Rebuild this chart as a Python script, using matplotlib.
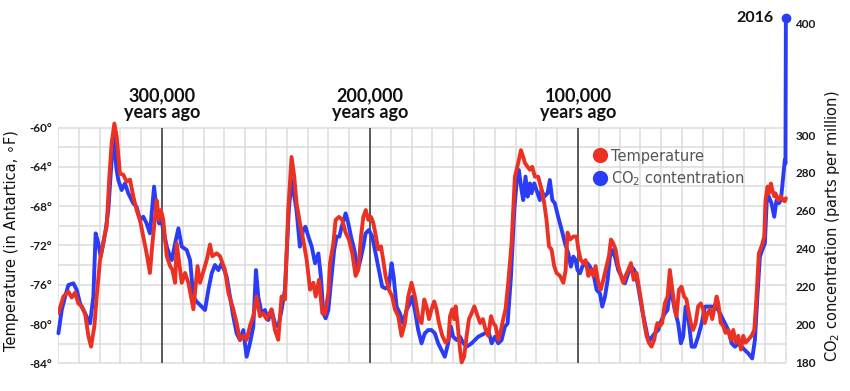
import numpy as np
import matplotlib
matplotlib.use("Agg")
import matplotlib.pyplot as plt
from matplotlib.lines import Line2D
from matplotlib.font_manager import FontProperties

# ---------------- data (thousands of years relative to 2016) ----------------
temp_ka = [
    -349.8, -347.4, -345.0, -343.4, -341.8, -340.2, -338.6, -337.0, -335.4, -334.1,
    -332.5, -331.4, -329.8, -327.7, -326.6, -325.3, -324.2, -322.9, -321.8, -320.2,
    -318.6, -317.0, -315.4, -313.8, -312.2, -310.6, -309.0, -307.4, -305.8, -304.6,
    -303.0, -302.6, -301.4, -300.5, -299.4, -297.7, -296.1, -295.0, -293.7,
    -292.9, -290.5, -288.9, -287.3, -284.9, -282.9, -281.7, -278.5, -276.9, -275.8,
    -273.7, -272.1, -269.7, -268.1, -265.7, -264.1, -262.5, -260.9, -259.3, -257.7,
    -256.1, -254.5, -252.9, -251.3, -249.7, -247.3, -245.7, -244.1, -242.5, -240.9,
    -239.3, -237.7, -236.4,
    -235.3, -233.7, -232.1, -230.4, -228.8, -227.2, -226.1, -224.5, -222.9, -221.6,
    -220.0, -219.2, -217.6, -216.5, -214.9, -213.3, -211.7, -210.1, -208.5, -206.9,
    -205.6, -204.3, -203.2, -202.0, -200.8, -199.5, -198.4, -197.1, -196.0, -194.7,
    -193.6, -192.5, -190.9, -189.3, -188.0, -186.4, -184.8, -183.2, -181.6, -180.0,
    -178.4, -176.8,
    -175.2, -173.9, -172.8, -171.6, -170.4, -169.1, -168.0, -166.8, -165.2, -163.6,
    -162.3, -161.5, -160.4, -159.5, -158.8, -157.9, -156.7, -155.9, -154.7, -153.5,
    -152.4, -151.1, -149.8, -148.2, -147.0, -145.7, -144.4, -143.1, -141.8, -140.7,
    -139.6, -138.3, -137.0, -135.9, -134.8, -133.5, -131.9, -130.3, -128.7, -127.4,
    -126.3, -125.5, -124.2, -123.1, -122.0, -120.7,
    -119.1, -117.5, -116.2, -115.1, -113.9, -112.7, -111.4, -110.3, -108.6, -107.0,
    -105.9, -105.0, -103.8, -102.2, -100.6, -99.8, -98.6, -97.4, -96.3, -95.0,
    -93.8, -92.6, -91.5, -90.2, -89.0, -87.8, -86.2, -85.1, -84.1, -83.0,
    -81.9, -80.6, -79.3, -78.2, -77.1, -75.8, -74.5, -73.2, -71.8, -70.7,
    -69.4, -68.1, -67.0, -65.9, -64.6, -63.3, -62.2,
    -61.7, -60.6, -59.5, -58.2, -56.9, -55.8, -54.6, -53.4, -52.6, -51.4,
    -50.2, -48.9, -47.8, -47.0, -45.7, -44.6, -43.4, -42.2, -40.9, -39.8,
    -39.0, -37.7, -36.5, -35.4, -34.5, -33.3, -32.5, -31.3, -30.1, -29.0,
    -27.7, -26.4, -25.3, -24.2, -22.9, -21.6, -20.5, -19.4, -18.1, -16.5,
    -15.2, -14.1, -13.0, -11.7, -10.4, -9.8, -8.8, -8.2, -7.2, -6.6,
    -5.6, -5.0, -3.7, -2.4, -1.3, -0.5, 0.0,
]
temp_f = [
    -78.9, -77.2, -76.7, -77.3, -76.8, -77.9, -78.2, -78.9, -81.2, -82.3,
    -80.2, -77.2, -73.5, -71.1, -70.1, -65.0, -61.6, -59.6, -60.9, -64.7,
    -64.8, -65.5, -65.3, -67.0, -68.4, -69.4, -71.1, -72.8, -74.8, -71.8,
    -68.4, -67.4, -69.4, -68.4, -69.4, -73.1, -74.1, -74.5, -75.8,
    -71.8, -75.8, -74.8, -75.8, -78.5, -74.1, -75.8, -73.5, -71.9, -73.1,
    -72.8, -73.1, -74.5, -76.8, -78.5, -79.9, -81.6, -81.2, -81.6, -80.2,
    -79.2, -77.2, -79.2, -78.9, -79.5, -78.5, -80.6, -81.6, -77.2, -77.5,
    -68.4, -63.0, -65.0,
    -67.7, -69.7, -71.4, -73.5, -76.5, -75.8, -77.2, -75.5, -78.9, -79.0,
    -76.8, -73.8, -71.8, -69.4, -69.1, -69.4, -70.7, -71.4, -72.8, -75.1,
    -74.5, -71.1, -69.1, -68.4, -69.4, -69.1, -69.7, -71.1, -72.4, -72.1,
    -73.5, -75.1, -76.5, -77.2, -78.5, -79.2, -81.2, -79.9, -77.2, -75.8,
    -77.2, -79.2,
    -79.9, -77.5, -78.2, -79.5, -78.5, -77.7, -78.5, -79.9, -81.2, -81.9,
    -81.6, -79.2, -78.5, -79.5, -78.2, -79.9, -82.6, -83.9, -83.3, -81.2,
    -79.5, -78.9, -78.2, -79.2, -79.9, -79.5, -80.6, -81.2, -79.2, -79.9,
    -80.2, -81.6, -80.6, -79.5, -78.5, -75.8, -71.8, -65.0, -63.6, -62.3,
    -63.0, -63.6, -64.0, -64.3, -64.0, -65.0,
    -65.0, -66.3, -67.7, -69.4, -72.1, -72.4, -74.1, -74.8, -75.1, -75.8,
    -74.5, -70.7, -71.4, -71.1, -71.1, -72.4, -73.5, -73.8, -73.5, -75.1,
    -74.5, -75.1, -74.1, -75.8, -76.5, -75.5, -74.1, -73.1, -71.4, -71.8,
    -72.4, -74.1, -75.1, -75.8, -75.1, -74.5, -73.8, -75.5, -74.8, -76.2,
    -77.9, -79.9, -81.2, -81.9, -82.3, -81.6, -80.2,
    -79.9, -80.2, -79.9, -77.9, -77.2, -74.5, -76.5, -78.5, -79.2, -76.5,
    -76.2, -77.2, -77.5, -78.5, -79.9, -80.6, -79.9, -78.2, -77.9, -78.5,
    -79.9, -78.9, -78.5, -79.5, -78.5, -77.2, -77.9, -79.9, -80.2, -80.9,
    -80.6, -81.6, -80.6, -81.9, -81.2, -82.6, -81.2, -81.9, -81.6, -81.2,
    -80.6, -77.2, -72.8, -72.1, -71.1, -67.4, -66.0, -66.7, -65.7, -66.3,
    -67.0, -66.7, -67.4, -67.0, -67.4, -67.5, -67.2,
]

co2_ka = [
    -349.8, -348.2, -346.6, -345.0, -342.6, -341.0, -339.4, -337.8, -336.2, -334.6,
    -333.0, -331.9, -330.6, -329.5, -328.2, -327.1, -325.8, -324.2, -323.4, -321.8,
    -321.0, -319.4, -317.8, -316.2, -313.8, -312.2, -310.6, -309.0, -307.4, -305.8,
    -303.8, -302.6, -301.4, -300.5, -299.4, -297.7, -296.1, -295.3, -293.7,
    -292.1, -290.5, -288.1, -286.5, -284.9, -283.3, -280.9, -279.3, -277.7, -276.1,
    -274.5, -272.9, -271.3, -268.9, -267.3, -265.7, -264.1, -262.5, -260.9, -259.3,
    -257.7, -256.1, -254.8, -253.7, -252.1, -250.5, -248.9, -247.3, -245.7, -244.1,
    -242.5, -240.9, -239.0, -237.7, -235.3,
    -233.7, -232.1, -231.0, -229.6, -228.0, -226.4, -224.8, -223.6, -222.4, -221.3,
    -220.0, -218.8, -217.2, -216.0, -214.7, -213.6, -211.7, -210.4, -209.1, -207.5,
    -205.9, -204.6, -203.2, -202.1, -200.5, -198.9, -197.3, -195.7, -194.1, -192.5,
    -190.9, -189.6, -188.6, -187.2, -185.6, -184.0, -182.4, -180.8, -179.7, -178.4,
    -176.8,
    -175.2, -173.6, -172.0, -170.4, -168.8, -167.2, -165.6, -164.0, -162.4, -161.1,
    -160.0, -158.3, -156.7, -155.1, -153.5, -151.1, -147.9, -144.7, -143.1, -141.5,
    -139.9, -138.3, -136.7, -135.1, -133.8, -132.2, -130.6, -129.5, -128.4, -127.1,
    -126.3, -125.2, -124.2, -123.1, -122.3, -121.0, -119.9,
    -118.3, -117.5, -116.2, -114.6, -113.5, -112.3, -111.1, -109.5, -107.8, -106.2,
    -104.6, -103.4, -102.2, -101.1, -100.2, -99.0, -97.9, -96.6, -95.4, -94.2,
    -92.6, -91.0, -89.4, -88.3, -87.0, -85.7, -84.6, -83.5, -82.2, -80.6,
    -79.0, -77.4, -75.8, -74.2, -72.9, -71.3, -70.2, -69.1, -67.8, -66.5,
    -65.4, -64.3, -63.0,
    -61.4, -59.8, -58.2, -56.9, -55.8, -54.6, -53.4, -51.8, -50.5, -49.4,
    -48.2, -47.0, -45.3, -43.8, -42.2, -40.5, -38.9, -34.1, -32.5, -30.9,
    -29.3, -27.7, -26.1, -24.5, -22.9, -21.3, -19.7, -18.1, -16.2, -14.9,
    -13.6, -12.5, -11.4, -10.1, -9.1, -8.2, -6.9, -5.6, -4.5, -3.4,
    -2.4, -1.3, -0.5, -0.2, 0.0,
]
co2_ppm = [
    195.2, 207.5, 214.5, 220.7, 221.6, 218.1, 211.0, 207.5, 204.0, 200.4,
    214.5, 248.0, 242.7, 235.7, 242.7, 249.8, 260.4, 286.8, 299.1, 281.5,
    276.2, 270.9, 274.4, 269.2, 263.9, 262.1, 255.1, 256.8, 253.3, 248.0,
    272.7, 260.4, 253.3, 256.8, 249.8, 241.0, 235.7, 233.9, 242.7,
    250.7, 241.0, 239.2, 233.9, 214.5, 211.9, 209.3, 207.5, 218.1, 226.9,
    231.3, 228.6, 232.2, 225.1, 214.5, 204.0, 195.2, 191.6, 196.9, 182.8,
    189.9, 198.7, 228.6, 214.5, 205.7, 207.5, 202.2, 207.5, 200.4, 198.7,
    207.5, 218.1, 260.4, 276.2, 260.4,
    241.0, 249.8, 251.5, 246.3, 241.0, 232.2, 237.4, 225.1, 205.7, 203.1,
    207.5, 221.6, 239.2, 246.3, 246.3, 251.5, 258.6, 253.3, 246.3, 239.2,
    228.6, 233.9, 241.0, 248.0, 249.8, 246.3, 237.4, 228.6, 219.8, 218.9,
    219.8, 232.2, 225.1, 209.3, 205.7, 200.4, 207.5, 211.0, 214.5, 207.5,
    196.9,
    189.9, 195.2, 196.9, 196.9, 195.2, 189.9, 186.3, 182.8, 189.9, 198.7,
    193.4, 191.6, 193.4, 189.9, 188.1, 189.9, 193.4, 195.2, 196.9, 189.9,
    193.4, 189.9, 191.6, 198.7, 200.4, 225.1, 260.4, 274.4, 281.5, 270.9,
    265.6, 278.0, 267.4, 274.4, 269.2, 274.4, 270.9,
    265.6, 270.9, 267.4, 269.2, 276.2, 265.6, 263.9, 256.8, 249.8, 242.7,
    237.4, 230.4, 235.7, 233.9, 228.6, 226.9, 230.4, 232.2, 232.2, 230.4,
    226.9, 218.1, 216.3, 209.3, 214.5, 223.5, 235.7, 239.2, 235.7, 228.6,
    225.1, 221.6, 226.9, 230.4, 228.6, 221.6, 214.5, 207.5, 200.4, 193.4,
    191.6, 193.4, 195.2,
    196.9, 202.2, 205.7, 207.5, 218.1, 214.5, 207.5, 200.4, 189.9, 193.4,
    209.3, 204.0, 188.1, 188.1, 193.4, 200.4, 209.3, 209.3, 207.5, 204.0,
    200.4, 196.9, 189.9, 188.1, 189.9, 188.1, 186.3, 184.6, 181.9, 191.6,
    216.3, 235.7, 239.2, 242.7, 267.4, 267.4, 263.9, 256.8, 265.6, 263.9,
    265.6, 278.0, 286.8, 285.0, 405.0,
]

temp_ticks = [-84, -80, -76, -72, -68, -64, -60]
temp_tick_labels = ["-84°", "-80°", "-76°", "-72°", "-68°", "-64°", "-60°"]
co2_ticks = [180, 200, 220, 240, 260, 280, 300, 400]
co2_tick_labels = ["180", "200", "220", "240", "260", "280", "300", "400"]
era_ticks = [-300, -200, -100]
era_labels = ["300,000", "200,000", "100,000"]

# ---------------- style ----------------
RED = "#ea3124"
BLUE = "#2b3cf5"
GRID = "#dcdcdc"
DARK = "#5a5a5a"

fig = plt.figure(figsize=(8.5, 3.91), dpi=100)
fig.patch.set_facecolor("white")
rect = [58 / 850, 25 / 391, 731 / 850, 356 / 391]

XLIM = (-350, 1.5)
TLIM = (-84.27, -48.04)
CLIM = (177.9, 412.6)
K = 0.5868  # compression of the CO2 axis above 300 ppm


def fwd(c):
    c = np.asarray(c, dtype=float)
    return np.where(c <= 300, c, 300 + (c - 300) * K)


def inv(f):
    f = np.asarray(f, dtype=float)
    return np.where(f <= 300, f, 300 + (f - 300) / K)


# background axes: grid and temperature ticks
axg = fig.add_axes(rect)
axg.set_xlim(*XLIM)
axg.set_ylim(*TLIM)
for s in axg.spines.values():
    s.set_visible(False)
axg.set_xticks([])
axg.set_yticks(temp_ticks)
axg.set_yticklabels(temp_tick_labels)
axg.tick_params(axis="y", length=0, pad=4)
for lab in axg.get_yticklabels():
    lab.set_fontfamily(["Lato", "DejaVu Sans"])
    lab.set_fontweight("bold")
    lab.set_fontsize(8.5)
    lab.set_color("#1a1a1a")

grid_x = np.arange(-350, 1, 10)
grid_y = np.arange(-84, -59, 2)
axg.vlines(grid_x, -84, -60, color=GRID, lw=1.1, zorder=1)
axg.hlines(grid_y, -350, 0, color=GRID, lw=1.1, zorder=1)
axg.vlines(era_ticks, -84, -60, color=DARK, lw=1.4, zorder=2)
for x, lab in zip(era_ticks, era_labels):
    axg.text(x, -57.3, lab, ha="center", va="baseline", fontsize=13,
             fontweight="bold", family=["Lato", "DejaVu Sans"], color="#111111")
    axg.text(x, -59.05, "years ago", ha="center", va="baseline", fontsize=13,
             fontweight="bold", family=["Lato", "DejaVu Sans"], color="#111111")

# CO2 axes
axc = fig.add_axes(rect, sharex=axg)
axc.patch.set_visible(False)
axc.set_yscale("function", functions=(fwd, inv))
axc.set_ylim(*CLIM)
for s in axc.spines.values():
    s.set_visible(False)
axc.tick_params(axis="x", bottom=False, labelbottom=False)
axc.yaxis.tick_right()
axc.set_yticks(co2_ticks)
axc.set_yticklabels(co2_tick_labels)
axc.yaxis.set_minor_locator(matplotlib.ticker.NullLocator())
axc.tick_params(axis="y", length=0, pad=4.5)
for lab in axc.get_yticklabels():
    lab.set_fontfamily(["Lato", "DejaVu Sans"])
    lab.set_fontweight("bold")
    lab.set_fontsize(8.5)
    lab.set_color("#1a1a1a")
axc.plot(co2_ka, co2_ppm, color=BLUE, lw=2.8, solid_joinstyle="round",
         solid_capstyle="round", clip_on=False)
axc.plot(co2_ka[-1:], co2_ppm[-1:], "o", color=BLUE, ms=6, clip_on=False)
axc.annotate("2016", xy=(co2_ka[-1], co2_ppm[-1]), xytext=(-9, 0),
             textcoords="offset points", ha="right", va="center",
             fontsize=11.5, fontweight="bold", family=["Lato", "DejaVu Sans"],
             color="#111111")

# temperature curve on top
axt = fig.add_axes(rect, sharex=axg)
axt.patch.set_visible(False)
axt.set_ylim(*TLIM)
axt.axis("off")
axt.plot(temp_ka, temp_f, color=RED, lw=2.8, solid_joinstyle="round",
         solid_capstyle="round")
axt.set_xlim(*XLIM)

handles = [Line2D([], [], ls="none", marker="o", ms=10, color=RED),
           Line2D([], [], ls="none", marker="o", ms=10, color=BLUE)]
axt.legend(handles, ["Temperature", "CO$_2$ contentration"],
           loc="upper left", bbox_to_anchor=(594 / 850, 1 - 148.5 / 391),
           bbox_transform=fig.transFigure, frameon=False,
           prop=FontProperties(family="DejaVu Sans", size=10.5),
           labelcolor="#555555", handlelength=0.8, handletextpad=0.35,
           labelspacing=0.4, borderpad=0, borderaxespad=0)

fig.text(12 / 850, 1 - 240.5 / 391, "Temperature (in Antartica, \u2218F)",
         rotation=90, ha="center", va="center", fontsize=10.5,
         family="DejaVu Sans", color="#111111")
fig.text(832 / 850, 1 - 226 / 391, "CO$_2$ concentration (parts per million)",
         rotation=90, ha="center", va="center", fontsize=10.5,
         family="DejaVu Sans", color="#111111")

fig.savefig("out.png", dpi=100, facecolor="white")
